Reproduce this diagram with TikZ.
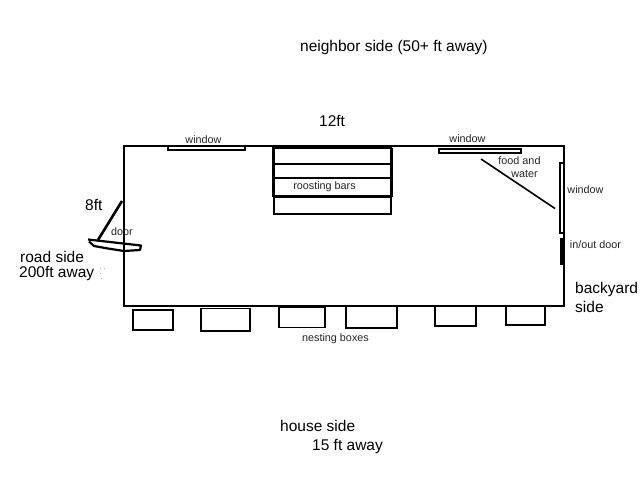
\documentclass[tikz,border=0pt]{standalone}
\usepackage{fontspec}
\setmainfont{Liberation Sans}
\tikzset{
  wall/.style={draw=black,line width=2pt},
  thin wall/.style={draw=black,line width=1.8pt},
  big/.style={inner sep=0pt,anchor=west,font=\fontsize{15.5}{17}\selectfont,text=black},
  small/.style={inner sep=0pt,anchor=center,font=\fontsize{10.8}{12}\selectfont,text=black!85}
}
\begin{document}
\begin{tikzpicture}[x=1pt,y=-1pt]
\useasboundingbox (0,0) rectangle (640,480);
\fill[white] (0,0) rectangle (640,480);
% coop outline
\draw[wall] (124,146) rectangle (564,305.5);
% windows
\draw[thin wall] (168,146.5) rectangle (245,150);
\draw[thin wall] (439,149) rectangle (521,153);
\draw[thin wall] (560,163) rectangle (564,233);
% in/out door
\fill[black] (560,238) rectangle (565,265);
% food and water divider
\draw[line width=1.6pt] (481,159) -- (555,208.5);
% roosting bars
\draw[line width=3pt] (273,148) -- (273,197) (391,148) -- (391,197);
\draw[line width=2pt] (272,148) -- (392,148);
\draw[line width=1.5pt] (273,164) -- (391,164) (273,178) -- (391,178);
\draw[line width=2.2pt] (273,196.5) -- (391,196.5);
\draw[line width=2pt] (273.5,196) -- (273.5,214) -- (390.5,214) -- (390.5,196);
% door
\draw[line width=2.6pt] (122,201) -- (98,240);
\draw[line width=2.2pt,line join=round] (88,239.5) -- (141,245.5) -- (140,250) -- (124,251) -- (108,248.5) -- (94,246) -- (89,241.5);
% stray specks
\fill[black!25] (100,268) rectangle (101,269) (104,268) rectangle (105,269) (100,273) rectangle (101,274) (101,278) rectangle (102,279);
% nesting boxes
\draw[thin wall] (133,310) rectangle (173,330);
\draw[thin wall] (201,308.5) rectangle (250,331);
\draw[thin wall] (279,307.5) rectangle (325,327.5);
\draw[thin wall] (346,306.5) rectangle (397,328);
\draw[thin wall] (435,306.5) rectangle (476,326);
\draw[thin wall] (506,306.5) rectangle (545,325);
% labels
\node[big] (neighbor) at (300,47.5) {neighbor side (50+ ft away)};
\node[big] (len) at (319,121) {12ft};
\node[big] (wid) at (85,205) {8ft};
\node[big] (road1) at (20,257) {road side};
\node[big] (road2) at (19,273) {200ft away};
\node[big] (back1) at (575,289) {backyard};
\node[big] (back2) at (575,307) {side};
\node[big] (house1) at (280,426) {house side};
\node[big] (house2) at (312,446) {15 ft away};
\node[small] (win1) at (203.5,139.5) {window};
\node[small] (win2) at (467.5,138.5) {window};
\node[small] (win3) at (585.5,189.5) {window};
\node[small] (food1) at (519.5,160.5) {food and};
\node[small] (food2) at (524.5,174.5) {water};
\node[small] (roost) at (324.5,186.5) {roosting bars};
\node[small] (doorl) at (122,231.5) {door};
\node[small] (inout) at (595.5,244.5) {in/out door};
\node[small] (nest) at (335.5,338.5) {nesting boxes};
\end{tikzpicture}
\end{document}
